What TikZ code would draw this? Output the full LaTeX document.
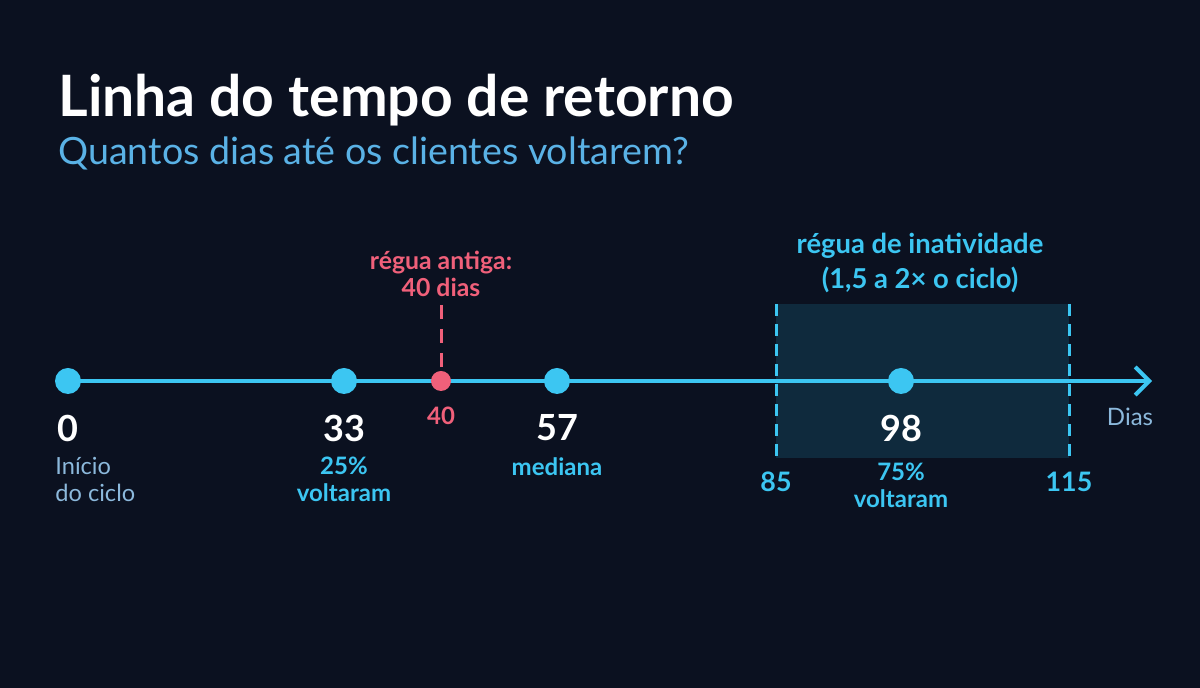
\documentclass[tikz,border=0pt]{standalone}
\usepackage{fontspec}
\setmainfont{Lato}
\usetikzlibrary{arrows.meta}
\definecolor{bg}{HTML}{0B1120}
\definecolor{cy}{HTML}{3CC6F2}
\definecolor{sub}{HTML}{5AB2E6}
\definecolor{muted}{HTML}{8CB9DC}
\definecolor{rd}{HTML}{F0607A}
\definecolor{band}{HTML}{0F2A3D}
\tikzset{
  dot/.style={circle,fill=cy,minimum size=13pt,inner sep=0},
  rdot/.style={circle,fill=rd,minimum size=10pt,inner sep=0},
  num/.style={text=white,font=\bfseries\fontsize{18}{20}\selectfont,anchor=center,inner sep=0},
  lbl/.style={text=cy,font=\bfseries\fontsize{12}{13.5}\selectfont,align=center,inner sep=0},
  mut/.style={text=muted,font=\fontsize{11.8}{13.5}\selectfont,align=left,inner sep=0},
  dashln/.style={cy,line width=1.5,dash pattern=on 6 off 4},
}
\begin{document}
\begin{tikzpicture}[x=0.5pt,y=-0.5pt]
\fill[bg] (0,0) rectangle (1200,688);
\useasboundingbox (0,0) rectangle (1200,688);
% title
\node[anchor=base west,inner sep=0,text=white,font=\bfseries\fontsize{28.5}{32}\selectfont] (title) at (58,117) {Linha do tempo de retorno};
\node[anchor=base west,inner sep=0,text=sub,font=\fontsize{18.8}{22}\selectfont] (subtitle) at (58,165) {Quantos dias até os clientes voltarem?};
% band
\fill[band] (776,304) rectangle (1069,458);
\coordinate (b1t) at (776,304); \coordinate (b1b) at (776,460);
\coordinate (b2t) at (1069,304); \coordinate (b2b) at (1069,460);
\draw[dashln] (b1t) -- (b1b);
\draw[dashln] (b2t) -- (b2b);
% axis
\coordinate (start) at (68,381);
\coordinate (end) at (1152,381);
\draw[cy,line width=2,-{Straight Barb[length=7,width=14,line width=2]}] (start) -- (end);
% red marker
\coordinate (rtop) at (441,305);
\node[rdot] (r40) at (441,381) {};
\draw[rd,line width=1.5,dash pattern=on 7 off 5] (rtop) -- (r40);
% dots
\node[dot] (d0) at (68,381) {};
\node[dot] (d33) at (344,381) {};
\node[dot] (d57) at (557,381) {};
\node[dot] (d98) at (901,381) {};
% numbers
\node[num] (n0) at (68,428) {0};
\node[num] (n33) at (344,428) {33};
\node[num] (n57) at (557,428) {57};
\node[num] (n98) at (901,428) {98};
\node[text=rd,font=\bfseries\fontsize{12}{14}\selectfont,inner sep=0] (n40) at (441,416) {40};
% labels
\node[mut,anchor=north west] (l0) at (55,457) {Início\\do ciclo};
\node[lbl,anchor=north] (l33) at (344,457) {25\%\\voltaram};
\node[lbl,anchor=north] (l57) at (557,457) {mediana};
\node[lbl,anchor=north] (l98) at (901,463) {75\%\\voltaram};
\node[lbl,font=\bfseries\fontsize{13.4}{15}\selectfont] (l85) at (776,482) {85};
\node[lbl,font=\bfseries\fontsize{13.4}{15}\selectfont] (l115) at (1069,482) {115};
\node[text=muted,font=\fontsize{12}{14}\selectfont,inner sep=0] (dias) at (1130,417) {Dias};
% top labels
\node[lbl,font=\bfseries\fontsize{13.7}{17.5}\selectfont] (rin) at (920,263) {régua de inatividade\\(1,5 a 2× o ciclo)};
\node[text=rd,align=center,inner sep=0,font=\bfseries\fontsize{12.4}{13.5}\selectfont] (rant) at (441,274) {régua antiga:\\40 dias};
\end{tikzpicture}
\end{document}
